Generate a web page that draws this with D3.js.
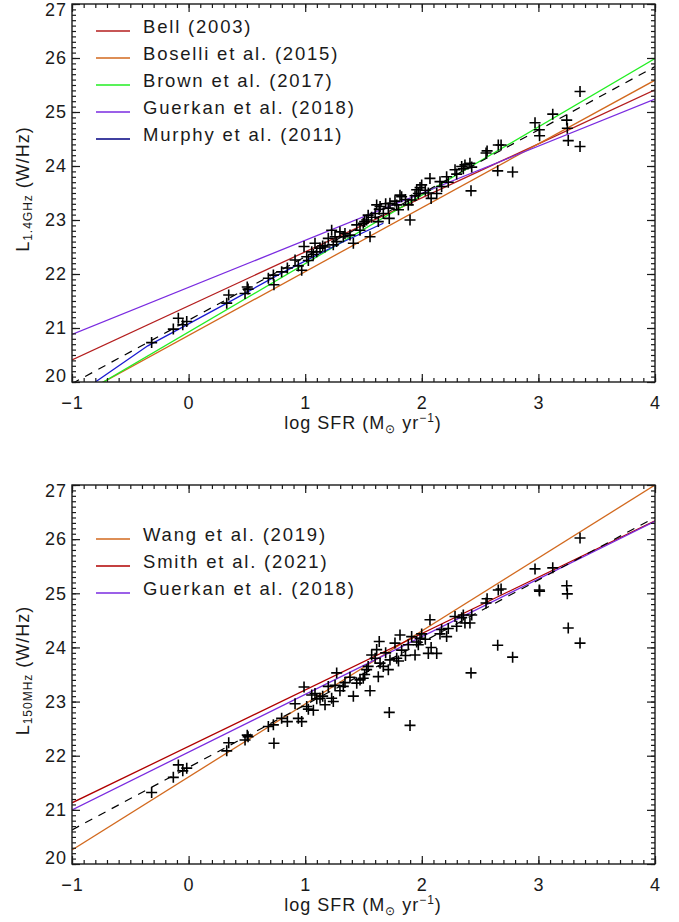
<!DOCTYPE html>
<html>
<head>
<meta charset="utf-8">
<script src="https://cdn.jsdelivr.net/npm/d3@7/dist/d3.min.js"></script>
<style>
  body { margin: 0; background: #fff; }
  text { font-family: "Liberation Sans", Arial, sans-serif; fill: #1a1a1a; }
</style>
</head>
<body>
<svg id="chart" width="679" height="922"></svg>
<script>
// ---- data ---------------------------------------------------------------
// log star-formation rate of each galaxy (shared by both panels)
const logSFR = [
  -0.317, -0.131, -0.088, -0.050, -0.016, 0.327, 0.344, 0.484, 0.503, 0.510,
  0.684, 0.727, 0.732, 0.798, 0.847, 0.913, 0.941, 0.970, 0.990, 1.013,
  1.027, 1.056, 1.070, 1.084, 1.099, 1.127, 1.150, 1.170, 1.198, 1.227,
  1.241, 1.256, 1.270, 1.298, 1.327, 1.341, 1.384, 1.413, 1.442, 1.470,
  1.498, 1.510, 1.527, 1.540, 1.556, 1.570, 1.600, 1.613, 1.627, 1.635,
  1.642, 1.670, 1.690, 1.713, 1.721, 1.727, 1.770, 1.785, 1.800, 1.813,
  1.827, 1.860, 1.884, 1.899, 1.913, 1.942, 1.956, 1.970, 1.985, 1.999,
  2.030, 2.056, 2.070, 2.080, 2.128, 2.156, 2.170, 2.213, 2.227, 2.285,
  2.299, 2.342, 2.356, 2.370, 2.413, 2.428, 2.422, 2.551, 2.560, 2.651,
  2.656, 2.680, 2.779, 2.971, 3.008, 3.010, 3.123, 3.243, 3.248, 3.256,
  3.357, 3.357
];
// log L(1.4 GHz) in W/Hz
const logL14 = [
  20.73, 20.98, 21.18, 21.06, 21.12, 21.46, 21.61, 21.64, 21.76, 21.72,
  21.92, 21.98, 21.80, 22.04, 22.11, 22.26, 22.15, 22.07, 22.51, 22.32,
  22.25, 22.41, 22.36, 22.57, 22.41, 22.48, 22.52, 22.50, 22.66, 22.81,
  22.54, 22.69, 22.60, 22.78, 22.69, 22.75, 22.72, 22.57, 22.91, 22.81,
  22.94, 22.97, 23.00, 23.09, 22.69, 23.05, 23.12, 23.28, 22.97, 23.20,
  23.25, 23.12, 23.30, 23.22, 23.03, 23.31, 23.35, 23.28, 23.19, 23.46,
  23.43, 23.38, 23.28, 23.00, 23.37, 23.45, 23.56, 23.49, 23.60, 23.65,
  23.55, 23.50, 23.77, 23.40, 23.49, 23.71, 23.62, 23.80, 23.70, 23.93,
  23.85, 23.99, 23.95, 24.02, 24.05, 23.98, 23.54, 24.24, 24.28, 23.91,
  24.39, 24.39, 23.89, 24.80, 24.67, 24.56, 24.96, 24.85, 24.70, 24.47,
  25.38, 24.36
];
// log L(150 MHz) in W/Hz
const logL150 = [
  21.32, 21.60, 21.83, 21.72, 21.77, 22.09, 22.24, 22.29, 22.38, 22.35,
  22.54, 22.57, 22.23, 22.69, 22.63, 22.96, 22.69, 22.63, 23.27, 22.91,
  22.86, 23.12, 22.84, 23.15, 23.05, 23.06, 23.10, 22.94, 23.28, 23.06,
  23.00, 23.30, 23.53, 23.20, 23.28, 23.35, 23.45, 23.10, 23.34, 23.40,
  23.43, 23.50, 23.59, 23.65, 23.20, 23.86, 23.80, 23.96, 23.46, 24.11,
  23.71, 23.65, 23.90, 23.59, 22.80, 23.77, 24.08, 23.80, 23.75, 24.23,
  23.95, 23.85, 24.05, 22.56, 24.20, 23.86, 24.10, 24.05, 24.17, 24.25,
  24.15, 23.89, 24.51, 24.00, 23.89, 24.25, 24.33, 24.20, 24.35, 24.57,
  24.39, 24.55, 24.60, 24.45, 24.45, 24.60, 23.53, 24.82, 24.90, 24.04,
  25.06, 25.08, 23.82, 25.45, 25.06, 25.04, 25.47, 25.14, 24.99, 24.36,
  26.02, 24.08
];

// calibrations (log SFR -> log L), 1.4 GHz panel
const bellX = [-1, 4],        bellY = [20.41, 25.41];
const boselliX = [-1, 4],     boselliY = [19.68, 25.59];
const brownX = [-1, 4],       brownY = [19.66, 25.99];
const guerkan14X = [-1, 4],   guerkan14Y = [20.88, 25.24];
const murphyX = [-0.80, -0.35, 0.33, 0.80, 1.30, 1.67];
const murphyY = [20.00, 20.67, 21.46, 22.02, 22.57, 22.94];
const fit14X = [-1, 4],       fit14Y = [19.97, 25.84];
// calibrations, 150 MHz panel
const wangX = [-1, 4],        wangY = [20.26, 27.00];
const smithX = [-1, 4],       smithY = [21.13, 26.34];
const guerkan150X = [-1, 4],  guerkan150Y = [21.00, 26.33];
const fit150X = [-1, 4],      fit150Y = [20.63, 26.40];

const xTicks = [-1, 0, 1, 2, 3, 4];
const yTicks = [20, 21, 22, 23, 24, 25, 26, 27];

// ---- layout --------------------------------------------------------------
const svg = d3.select("#chart");
const left = 72, right = 655;
const COL = {
  bell: "#b41e1e", boselli: "#d2691e", brown: "#22ee22",
  guerkan: "#7a2be0", murphy: "#1a1ad2", smith: "#b00000", wang: "#d2691e"
};

function panel(id, top, bottom, lum, curves, legend, subLabel) {
  const g = svg.append("g");
  const x = d3.scaleLinear().domain([-1, 4]).range([left, right]);
  const y = d3.scaleLinear().domain([20, 27]).range([bottom, top]);

  g.append("clipPath").attr("id", "clip" + id)
    .append("rect").attr("x", left).attr("y", top)
    .attr("width", right - left).attr("height", bottom - top);

  const plot = g.append("g").attr("clip-path", `url(#clip${id})`);
  const line = d3.line().x(d => x(d[0])).y(d => y(d[1]));

  curves.forEach(c => {
    plot.append("path")
      .datum(d3.zip(c.xs, c.ys))
      .attr("d", line)
      .attr("fill", "none")
      .attr("stroke", c.color)
      .attr("stroke-width", c.dash ? 1.2 : 1.3)
      .attr("stroke-dasharray", c.dash ? "8,7" : null);
  });

  // plus markers
  const pts = d3.zip(logSFR, lum);
  const arm = 5.5;
  plot.selectAll("path.pt").data(pts).join("path")
    .attr("class", "pt")
    .attr("d", d => {
      const cx = x(d[0]), cy = y(d[1]);
      return `M${cx - arm},${cy}H${cx + arm}M${cx},${cy - arm}V${cy + arm}`;
    })
    .attr("stroke", "#000").attr("stroke-width", 1.6).attr("fill", "none");

  // axes, ticks pointing inward on all four sides
  const xMinor = d3.range(-1, 4.001, 0.1).map(v => +v.toFixed(1));
  const yMinor = d3.range(20, 27.001, 0.1).map(v => +v.toFixed(1));
  const axStyle = sel => {
    sel.select(".domain").remove();
    sel.selectAll("line").attr("stroke", "#1a1a1a").attr("stroke-width", 1.2);
  };
  const bx = g.append("g").attr("transform", `translate(0,${bottom})`);
  bx.call(d3.axisBottom(x).tickValues(xMinor).tickSize(-4).tickFormat("")).call(axStyle);
  bx.append("g").call(d3.axisBottom(x).tickValues(xTicks).tickSize(-8)
      .tickPadding(14).tickFormat(d => d < 0 ? "\u2212" + Math.abs(d) : d))
    .call(axStyle)
    .selectAll("text").attr("font-size", 18).attr("fill", "#1a1a1a")
    .attr("letter-spacing", 1);
  const tx = g.append("g").attr("transform", `translate(0,${top})`);
  tx.call(d3.axisTop(x).tickValues(xMinor).tickSize(-4).tickFormat("")).call(axStyle);
  tx.append("g").call(d3.axisTop(x).tickValues(xTicks).tickSize(-8).tickFormat("")).call(axStyle);

  const ly = g.append("g").attr("transform", `translate(${left},0)`);
  ly.call(d3.axisLeft(y).tickValues(yMinor).tickSize(-4).tickFormat("")).call(axStyle);
  ly.append("g").call(d3.axisLeft(y).tickValues(yTicks).tickSize(-8).tickPadding(5)
      .tickFormat(d3.format("d")))
    .call(axStyle)
    .selectAll("text").attr("font-size", 18).attr("fill", "#1a1a1a")
    .attr("letter-spacing", 1)
    .attr("dy", d => d === 20 ? "-0.05em" : d === 27 ? "0.62em" : "0.32em");
  const ry = g.append("g").attr("transform", `translate(${right},0)`);
  ry.call(d3.axisRight(y).tickValues(yMinor).tickSize(-4).tickFormat("")).call(axStyle);
  ry.append("g").call(d3.axisRight(y).tickValues(yTicks).tickSize(-8).tickFormat("")).call(axStyle);

  // frame
  g.append("rect").attr("x", left).attr("y", top)
    .attr("width", right - left).attr("height", bottom - top)
    .attr("fill", "none").attr("stroke", "#1a1a1a").attr("stroke-width", 1.4);

  // axis titles
  const xt = g.append("text").attr("x", 363).attr("y", bottom + 47)
    .attr("text-anchor", "middle").attr("font-size", 18).attr("letter-spacing", 1);
  xt.append("tspan").text("log SFR (M");
  xt.append("tspan").attr("font-size", 12).attr("dy", 4).text("\u2299");
  xt.append("tspan").attr("dy", -4).text(" yr");
  xt.append("tspan").attr("font-size", 12).attr("dy", -7).text("\u22121");
  xt.append("tspan").attr("dy", 7).text(")");

  const yt = g.append("text")
    .attr("transform", `translate(29,${(top + bottom) / 2 - 4}) rotate(-90)`)
    .attr("text-anchor", "middle").attr("font-size", 18).attr("letter-spacing", 1);
  yt.append("tspan").text("L");
  yt.append("tspan").attr("font-size", 12).attr("dy", 3).text(subLabel);
  yt.append("tspan").attr("dy", -3).text(" (W/Hz)");

  // legend
  legend.forEach((l, i) => {
    const ly0 = l.y0 + i * 27;
    g.append("line").attr("x1", 96).attr("x2", 130).attr("y1", ly0).attr("y2", ly0)
      .attr("stroke", l.color).attr("stroke-width", 1.4);
    g.append("text").attr("x", 143).attr("y", ly0 + 2)
      .attr("font-size", 18.5).attr("letter-spacing", 1.8).text(l.label);
  });
}

panel("a", 4, 382, logL14, [
  { xs: bellX, ys: bellY, color: COL.bell },
  { xs: boselliX, ys: boselliY, color: COL.boselli },
  { xs: brownX, ys: brownY, color: COL.brown },
  { xs: guerkan14X, ys: guerkan14Y, color: COL.guerkan },
  { xs: murphyX, ys: murphyY, color: COL.murphy },
  { xs: fit14X, ys: fit14Y, color: "#000", dash: true }
], [
  { label: "Bell (2003)", color: COL.bell, y0: 31 },
  { label: "Boselli et al. (2015)", color: COL.boselli, y0: 31 },
  { label: "Brown et al. (2017)", color: COL.brown, y0: 31 },
  { label: "Guerkan et al. (2018)", color: COL.guerkan, y0: 31 },
  { label: "Murphy et al. (2011)", color: "#000080", y0: 31 }
], "1.4GHz");

panel("b", 485, 864, logL150, [
  { xs: wangX, ys: wangY, color: COL.wang },
  { xs: smithX, ys: smithY, color: COL.smith },
  { xs: guerkan150X, ys: guerkan150Y, color: COL.guerkan },
  { xs: fit150X, ys: fit150Y, color: "#000", dash: true }
], [
  { label: "Wang et al. (2019)", color: COL.wang, y0: 539 },
  { label: "Smith et al. (2021)", color: COL.smith, y0: 539 },
  { label: "Guerkan et al. (2018)", color: COL.guerkan, y0: 539 }
], "150MHz");
</script>
</body>
</html>
